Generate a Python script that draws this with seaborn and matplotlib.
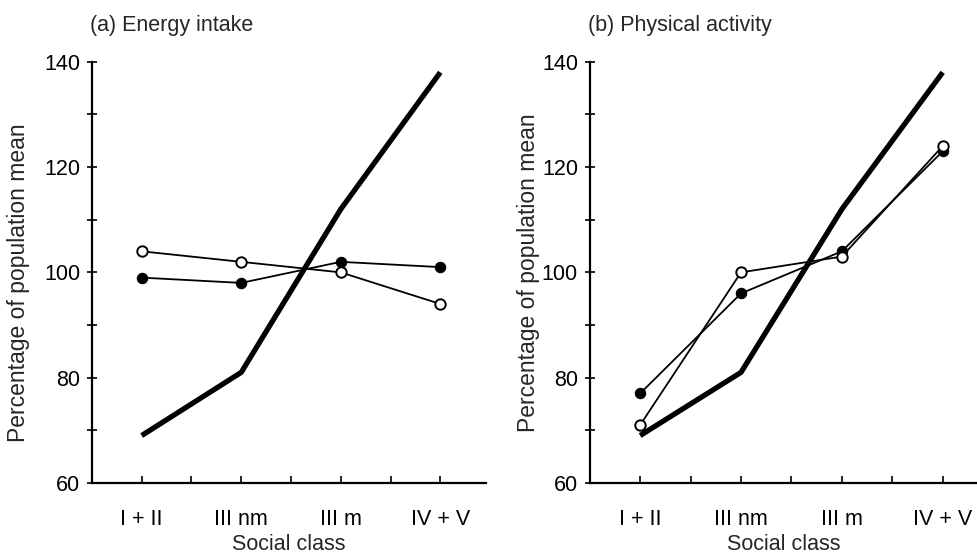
import numpy as np
import pandas as pd
import matplotlib.pyplot as plt
import seaborn as sns

classes = ['I + II', 'III nm', 'III m', 'IV + V']
# thick reference line (same on both panels)
ref_line = [69, 81, 112, 138]
energy_open = [104, 102, 100, 94]
energy_filled = [99, 98, 102, 101]
activity_open = [71, 100, 103, 124]
activity_filled = [77, 96, 104, 123]
titles = ['(a) Energy intake', '(b) Physical activity']

sns.set_style('ticks')
plt.rcParams['font.family'] = ['Liberation Sans', 'DejaVu Sans']

fig = plt.figure(figsize=(9.78, 5.57), dpi=100)
ax1 = fig.add_axes([0.094, 0.133, 0.403, 0.756])
ax2 = fig.add_axes([0.603, 0.133, 0.397, 0.756])

panels = [(ax1, energy_open, energy_filled, 3.46, -0.157, 0.475),
          (ax2, activity_open, activity_filled, 3.35, -0.129, 0.499)]
for i, (ax, op, fi, xmax, ylx, yly) in enumerate(panels):
    sns.lineplot(x=classes, y=ref_line, ax=ax, color='black', linewidth=3.8,
                 sort=False, solid_capstyle='butt', zorder=2)
    sns.lineplot(x=classes, y=fi, ax=ax, color='black', linewidth=1.3, sort=False,
                 marker='o', markersize=7.5, markerfacecolor='black',
                 markeredgecolor='black', zorder=3)
    sns.lineplot(x=classes, y=op, ax=ax, color='black', linewidth=1.3, sort=False,
                 marker='o', markersize=7.5, markerfacecolor='white',
                 markeredgecolor='black', markeredgewidth=1.4, zorder=4)
    ax.set_xlim(-0.5, xmax)
    ax.set_ylim(60, 140)
    ax.set_yticks([60, 80, 100, 120, 140])
    ax.set_yticks([70, 90, 110, 130], minor=True)
    ax.set_xticks([0, 1, 2, 3])
    ax.set_xticks([0.5, 1.5, 2.5], minor=True)
    ax.set_xticklabels(classes)
    sns.despine(ax=ax)
    for s in ['left', 'bottom']:
        ax.spines[s].set_linewidth(1.6)
        ax.spines[s].set_color('black')
    ax.tick_params(axis='y', which='both', direction='inout', length=7, width=1.2,
                   labelsize=15.5, pad=5, colors='black')
    ax.tick_params(axis='x', which='both', direction='in', length=5, width=1.2,
                   labelsize=15.5, pad=19, colors='black')
    ax.set_xlabel('Social class', fontsize=15.5)
    ax.xaxis.set_label_coords(0.5, -0.122)
    ax.set_ylabel('Percentage of population mean', fontsize=16.5)
    ax.yaxis.set_label_coords(ylx, yly)
    ax.text(-0.005, 1.062, titles[i], transform=ax.transAxes, fontsize=15.5,
            ha='left', va='bottom')

fig.savefig('out.png', dpi=100)
